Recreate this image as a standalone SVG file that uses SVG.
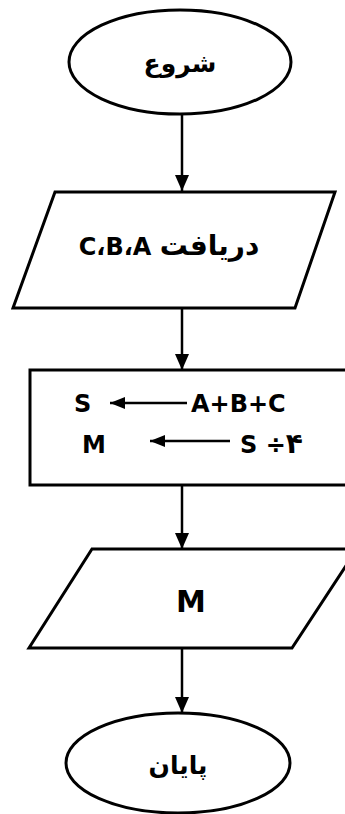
<svg xmlns="http://www.w3.org/2000/svg" width="345" height="814" viewBox="0 0 345 814">
  <style>
    .shape { fill: #ffffff; stroke: #000000; stroke-width: 3; }
    .flow { stroke: #000000; stroke-width: 2.5; fill: none; }
    .lbl { font-family: "DejaVu Sans", "Liberation Sans", sans-serif; font-weight: bold; font-size: 24px; fill: #000000; }
    .fa { font-size: 28px; }
    .term { font-size: 25px; }
    .big { font-size: 30px; }
  </style>
  <defs>
    <marker id="head" viewBox="0 0 16 14" refX="16" refY="7" markerWidth="16" markerHeight="14" markerUnits="userSpaceOnUse" orient="auto">
      <path d="M0,0 L16,7 L0,14 Z" fill="#000000"/>
    </marker>
    <marker id="headSmall" viewBox="0 0 15 12" refX="15" refY="6" markerWidth="15" markerHeight="12" markerUnits="userSpaceOnUse" orient="auto">
      <path d="M0,0 L15,6 L0,12 Z" fill="#000000"/>
    </marker>
  </defs>

  <rect width="345" height="814" fill="#ffffff"/>

  <!-- connectors between the steps -->
  <g id="connectors">
    <line class="flow" x1="182" y1="115" x2="182" y2="191" marker-end="url(#head)"/>
    <line class="flow" x1="182" y1="308" x2="182" y2="370" marker-end="url(#head)"/>
    <line class="flow" x1="182" y1="485" x2="182" y2="549" marker-end="url(#head)"/>
    <line class="flow" x1="182" y1="648" x2="182" y2="713" marker-end="url(#head)"/>
  </g>

  <g id="start">
    <ellipse class="shape" cx="180" cy="62" rx="111" ry="52"/>
    <text class="lbl term" x="180" y="72" text-anchor="middle">شروع</text>
  </g>

  <g id="input">
    <polygon class="shape" points="55,192 335,192 295,308 13,308"/>
    <text class="lbl" x="169" y="255" text-anchor="middle">C،B،A <tspan class="fa">دریافت</tspan></text>
  </g>

  <g id="process">
    <rect class="shape" x="30" y="370" width="330" height="115"/>
    <text class="lbl" x="74" y="412">S</text>
    <line class="flow" x1="187" y1="403" x2="110" y2="403" marker-end="url(#headSmall)"/>
    <text class="lbl" x="191" y="412">A+B+C</text>
    <text class="lbl" x="82" y="453">M</text>
    <line class="flow" x1="230" y1="441" x2="150" y2="441" marker-end="url(#headSmall)"/>
    <text class="lbl" x="240" y="453">S ÷<tspan class="fa">۴</tspan></text>
  </g>

  <g id="output">
    <polygon class="shape" points="92,549 357,549 292,648 29,648"/>
    <text class="lbl big" x="191" y="612" text-anchor="middle">M</text>
  </g>

  <g id="end">
    <ellipse class="shape" cx="178" cy="763" rx="112" ry="50"/>
    <text class="lbl term" x="178" y="774" text-anchor="middle">پایان</text>
  </g>
</svg>
